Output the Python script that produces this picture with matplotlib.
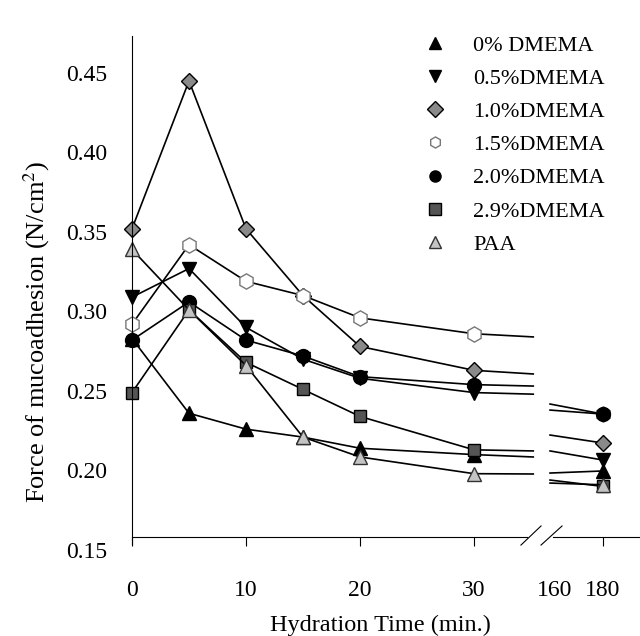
import numpy as np
import matplotlib
matplotlib.use("Agg")
import matplotlib.pyplot as plt

plt.rcParams['font.family'] = ['Liberation Serif', 'DejaVu Serif']
plt.rcParams['mathtext.fontset'] = 'stix'
plt.rcParams['font.size'] = 16

# hydration time points (min) before the axis break
time = [0, 5, 10, 15, 20, 30]
labels = ['0% DMEMA', '0.5%DMEMA', '1.0%DMEMA', '1.5%DMEMA',
          '2.0%DMEMA', '2.9%DMEMA', 'PAA']

# force of mucoadhesion (N/cm2)
dm00 = [0.283, 0.236, 0.226, 0.221, 0.214, 0.210]
dm05 = [0.309, 0.327, 0.290, 0.270, 0.258, 0.249]
dm10 = [0.352, 0.445, 0.352, 0.310, 0.278, 0.263]
dm15 = [0.292, 0.342, 0.319, 0.310, 0.296, 0.286]
dm20 = [0.282, 0.306, 0.282, 0.272, 0.259, 0.254]
dm29 = [0.249, 0.301, 0.268, 0.251, 0.234, 0.213]
paa = [0.339, 0.301, 0.266, 0.221, 0.2085, 0.198]

# values at 180 min
t_end = 180
end180 = [0.1997, 0.2066, 0.2173, 0.2355, 0.2355, 0.190, 0.191]

# line stubs either side of the break
t_stub_l, t_stub_r = 35.2, 158
stub_l = [0.2085, 0.248, 0.2607, 0.284, 0.2531, 0.2123, 0.1978]
stub_r = [0.1984, 0.2123, 0.2223, 0.2418, 0.238, 0.194, 0.1921]

series = [dm00, dm05, dm10, dm15, dm20, dm29, paa]
styles = [
    dict(marker='^', mfc='black', mec='black', ms=10),
    dict(marker='v', mfc='black', mec='black', ms=10),
    dict(marker='D', mfc='#8a8a8a', mec='black', ms=8),
    dict(marker='h', mfc='white', mec='#777777', ms=11),
    dict(marker='o', mfc='black', mec='black', ms=10),
    dict(marker='s', mfc='#555555', mec='black', ms=8.5),
    dict(marker='^', mfc='#c4c4c4', mec='#333333', ms=10),
]

# broken time axis: linear up to 36 min, compressed after 156 min
knots_t = [0, 36, 156, 200]
knots_u = [0, 36, 36.25, 45.51]


def fwd(t):
    return np.interp(t, knots_t, knots_u)


def inv(u):
    return np.interp(u, knots_u, knots_t)


fig = plt.figure(figsize=(6.4, 6.36), dpi=100)
ax = fig.add_axes([132 / 640, 1 - 550 / 636, 1 - 132 / 640, (550 - 36.4) / 636])
ax.set_xscale('function', functions=(fwd, inv))

handles = []
for vals, lab, st, sl, sr, ve in zip(series, labels, styles, stub_l, stub_r, end180):
    h, = ax.plot(time + [t_stub_l], vals + [sl], color='black', lw=1.2,
                 markevery=list(range(len(time))), label=lab, clip_on=False,
                 mew=1.0, **st)
    ax.plot([t_stub_r, t_end], [sr, ve], color='black', lw=1.2,
            markevery=[1], clip_on=False, mew=1.0, **st)
    handles.append(h)

ax.set_xlim(0, 195.5)
ax.set_ylim(0.15, 0.473)

y_axis = 0.158
ax.spines['top'].set_visible(False)
ax.spines['right'].set_visible(False)
ax.spines['bottom'].set_position(('data', y_axis))
ax.spines['bottom'].set_bounds(0, 34.65)
ax.spines['left'].set_bounds(0.154, 0.473)
ax.plot([159.2, 195.5], [y_axis, y_axis], color='black', lw=0.8, clip_on=False)

# break marks
ax.plot([34.12, 35.88], [0.1531, 0.1651], color='black', lw=0.8, clip_on=False)
ax.plot([35.88, 163.0], [0.1531, 0.1651], color='black', lw=0.8, clip_on=False)

ax.set_xticks([0, 10, 20, 30, 160, 180])
ax.set_xticklabels(['0', '10', '20', '30', '160', '180'])
ax.xaxis.get_major_ticks()[4].tick1line.set_visible(False)
ax.tick_params(axis='x', direction='out', length=6.5, width=0.8, pad=24, labelsize=17)
ax.minorticks_off()

ax.set_yticks([0.15, 0.20, 0.25, 0.30, 0.35, 0.40, 0.45])
ax.set_yticklabels(['%.2f' % v for v in [0.15, 0.20, 0.25, 0.30, 0.35, 0.40, 0.45]])
ax.tick_params(axis='y', length=0, pad=18, labelsize=17)

fig.text(37 / 640, 1 - 332 / 636, 'Force of mucoadhesion (N/cm$^2$)',
         rotation=90, ha='center', va='center', fontsize=19)
fig.text(380 / 640, 1 - 625 / 636, 'Hydration Time (min.)', ha='center', va='center',
         fontsize=17.5)

leg = ax.legend(handles=handles, loc='upper left', frameon=False,
                bbox_to_anchor=(424 / 640, 1 - 35 / 636), bbox_transform=fig.transFigure,
                borderpad=0, borderaxespad=0, handlelength=1.0, handletextpad=1.2,
                labelspacing=0.57)
for lh in leg.legend_handles:
    lh.set_linestyle('none')
    lh.set_markersize(8)

fig.savefig('out.png', dpi=100)
